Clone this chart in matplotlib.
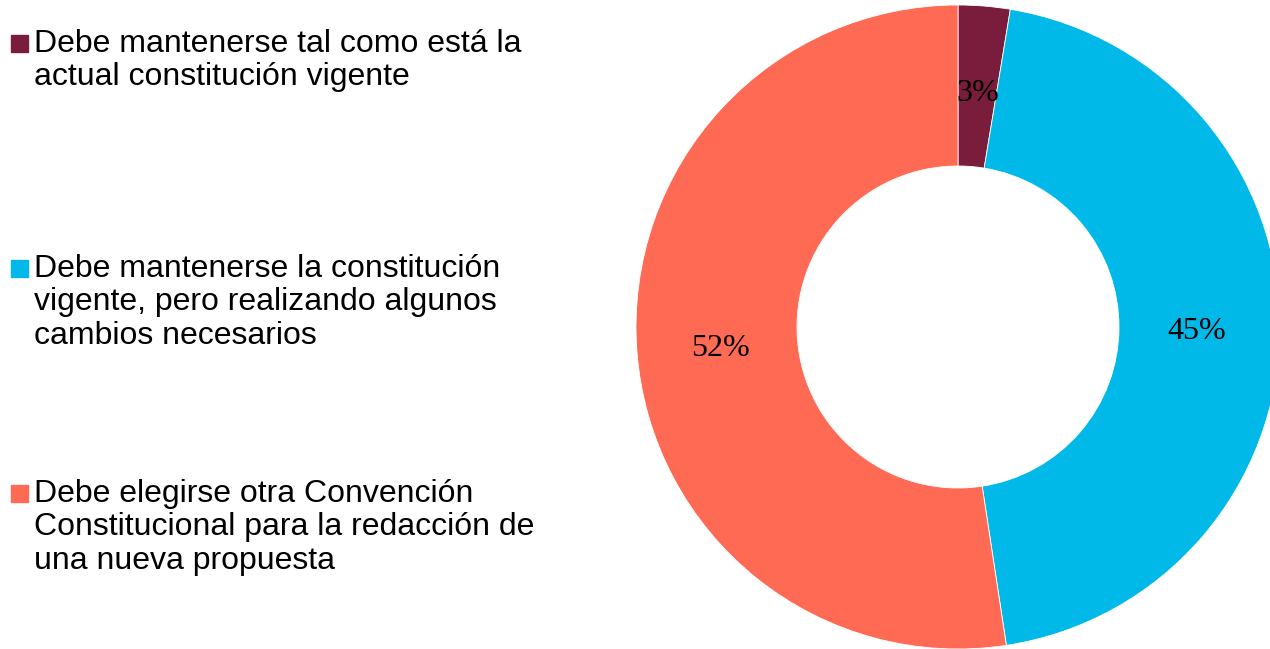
import matplotlib
matplotlib.use("Agg")
import matplotlib.pyplot as plt
from matplotlib.patches import Rectangle

categories = [
    "Debe mantenerse tal como está la\nactual constitución vigente",
    "Debe mantenerse la constitución\nvigente, pero realizando algunos\ncambios necesarios",
    "Debe elegirse otra Convención\nConstitucional para la redacción de\nuna nueva propuesta",
]
values = [2.6, 45.0, 52.4]
labels = ["3%", "45%", "52%"]
colors = ["#7A1C3B", "#00B9E8", "#FF6A55"]

fig = plt.figure(figsize=(12.7, 6.49), dpi=100)
ax = fig.add_axes([636 / 1270, 0.0, 644 / 1270, 644 / 649])

wedges, texts = ax.pie(values, colors=colors, startangle=90, counterclock=False,
                       radius=1.0, labels=labels, labeldistance=0.74,
                       wedgeprops=dict(width=0.5, edgecolor="white", linewidth=0.6),
                       textprops=dict(fontsize=23, family="Liberation Serif",
                                      color="black"))
for t in texts:
    t.set_ha("center")
    t.set_va("center_baseline")
ax.set_xlim(-1, 1)
ax.set_ylim(-1, 1)
ax.axis("off")

# legend on the left, drawn by hand so the square sits on the first line
legend_y = [35, 260, 485]
for cat, col, y in zip(categories, colors, legend_y):
    fig.patches.append(Rectangle((11 / 1270, 1 - (y + 17) / 649), 17 / 1270, 17 / 649,
                                 transform=fig.transFigure, color=col))
    fig.text(34 / 1270, 1 - (y - 6) / 649, cat, fontsize=23, family="Liberation Sans",
             va="top", ha="left", linespacing=1.15)

fig.savefig("out.png", dpi=100)
